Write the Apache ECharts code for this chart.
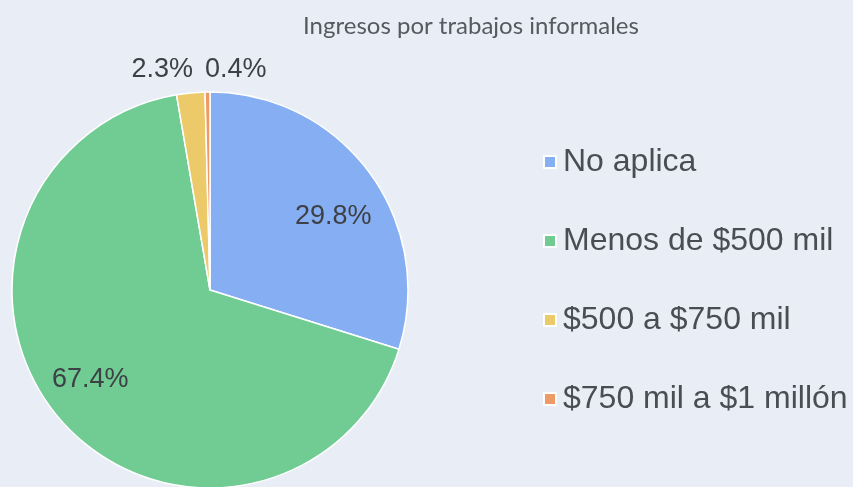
<!DOCTYPE html>
<html>
<head>
<meta charset="utf-8">
<title>Ingresos por trabajos informales</title>
<script src="https://cdn.jsdelivr.net/npm/echarts@6/dist/echarts.min.js"></script>
<style>
  html, body { margin: 0; padding: 0; background: #e9eef6; }
  #main { width: 853px; height: 487px; }
</style>
</head>
<body>
<div id="main"></div>
<script>
// datos del grafico
var categorias = ['No aplica', 'Menos de $500 mil', '$500 a $750 mil', '$750 mil a $1 millón'];
var porcentajes = [29.8, 67.4, 2.3, 0.4];
var colores = ['#86aef3', '#70cc93', '#ecca6a', '#ee9a66'];

var chart = echarts.init(document.getElementById('main'));

var datos = categorias.map(function (c, i) {
  var d = { name: c, value: porcentajes[i], itemStyle: { color: colores[i] } };
  // las rebanadas chicas llevan la etiqueta afuera
  if (porcentajes[i] < 5) {
    d.label = { position: 'outside' };
    d.labelLine = { show: false, length: 8, length2: 0 };
  }
  return d;
});

var option = {
  backgroundColor: '#e9eef6',
  animation: false,
  title: {
    text: 'Ingresos por trabajos informales',
    left: 466, top: 9, textAlign: 'center',
    textStyle: { fontFamily: 'Lato', fontWeight: 'normal', fontSize: 24, color: '#555a60' }
  },
  legend: {
    orient: 'vertical',
    left: 538, top: 141,
    itemWidth: 12, itemHeight: 12, itemGap: 47,
    icon: 'rect',
    textStyle: { fontFamily: 'Liberation Sans', fontSize: 32, color: '#4a4d52', padding: [0, 0, 0, 2] },
    data: categorias
  },
  series: [{
    type: 'pie',
    center: [210, 290],
    radius: [0, 198],
    startAngle: 90,
    clockwise: true,
    itemStyle: { borderColor: '#ffffff', borderWidth: 1.5 },
    label: {
      show: true,
      position: 'inside',
      formatter: function (p) { return p.value.toFixed(1) + '%'; },
      fontFamily: 'Liberation Sans', fontSize: 27, color: '#3d4045'
    },
    labelLayout: function (p) {
      if (p.dataIndex === 2) return { x: 193, y: 70, align: 'right', verticalAlign: 'middle' };
      if (p.dataIndex === 3) return { x: 205, y: 70, align: 'left', verticalAlign: 'middle' };
      if (p.dataIndex === 0) return { dx: 41, dy: -13 };
      if (p.dataIndex === 1) return { dx: -43, dy: 22 };
    },
    emphasis: { disabled: true },
    data: datos
  }]
};
chart.setOption(option);
</script>
</body>
</html>
